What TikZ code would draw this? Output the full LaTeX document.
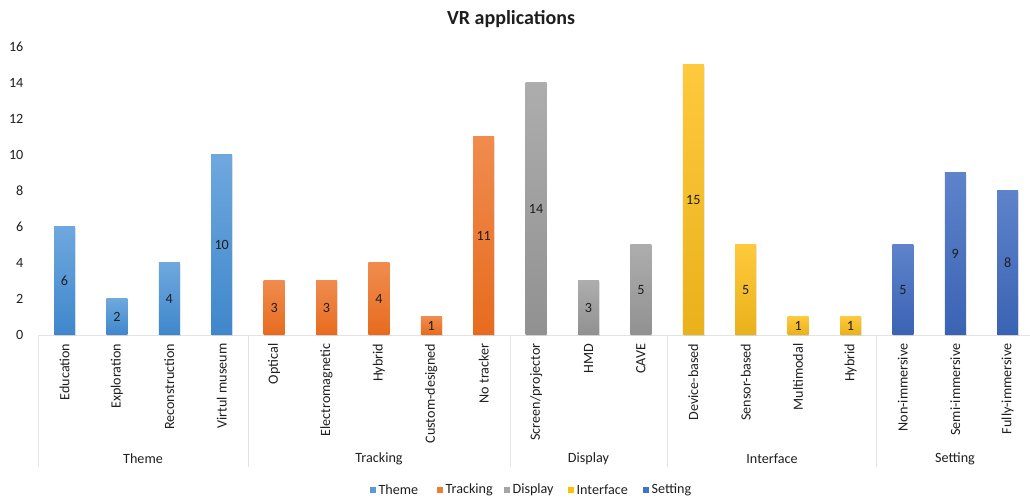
\documentclass[tikz,border=0pt]{standalone}
\usepackage{fontspec}
\setmainfont{Carlito}
\usetikzlibrary{shadows}
\definecolor{thT}{HTML}{6EA8DE}\definecolor{thB}{HTML}{3F87CB}\definecolor{thM}{HTML}{5B9BD5}
\definecolor{trT}{HTML}{F08C4E}\definecolor{trB}{HTML}{E76B1E}\definecolor{trM}{HTML}{ED7D31}
\definecolor{diT}{HTML}{ADADAD}\definecolor{diB}{HTML}{919191}\definecolor{diM}{HTML}{A5A5A5}
\definecolor{inT}{HTML}{FFC93E}\definecolor{inB}{HTML}{E9B11A}\definecolor{inM}{HTML}{FFC000}
\definecolor{seT}{HTML}{5E83CB}\definecolor{seB}{HTML}{3A63B3}\definecolor{seM}{HTML}{4472C4}
\definecolor{txt}{HTML}{1E1E1E}
\definecolor{gridc}{HTML}{E3E3E3}
\begin{document}
\begin{tikzpicture}[x=0.75pt,y=-0.75pt,
  lbl/.style={font=\fontsize{10.6}{12.5}\selectfont, text=txt, inner sep=1pt},
  bar/.style={lbl, minimum width=15.75pt, anchor=south, inner sep=0pt,
    drop shadow={opacity=0.18, shadow xshift=0.6pt, shadow yshift=-0.6pt}},
  gth/.style={top color=thT, bottom color=thB},
  gtr/.style={top color=trT, bottom color=trB},
  gdi/.style={top color=diT, bottom color=diB},
  gin/.style={top color=inT, bottom color=inB},
  gse/.style={top color=seT, bottom color=seB},
  sepline/.style={draw=gridc, line width=0.5pt},
  legmark/.style={minimum size=4.5pt, inner sep=0pt, anchor=center},
  titlestyle/.style={font=\fontsize{15}{18}\selectfont\bfseries, text=txt}
]
\useasboundingbox (0,0) rectangle (1030,502);
\node[titlestyle] (ttl) at (511,19) {VR applications};
% y axis labels
\foreach \t in {0,2,...,16}
  \node[lbl, anchor=east] (y\t) at (25,335-18*\t) {\t};
% baseline
\coordinate (ax0) at (38.3,335);
\coordinate (ax1) at (1030,335);
\draw[sepline] (ax0) -- (ax1);
% group separators
\foreach \x [count=\k] in {38.3,247.9,509.9,667.1,876.7} {
  \coordinate (s\k a) at (\x,335);
  \coordinate (s\k b) at (\x,467);
  \draw[sepline] (s\k a) -- (s\k b);
}
% bars
\foreach \n/\v/\g [count=\i from 0] in {Education/6/gth, Exploration/2/gth, Reconstruction/4/gth, Virtul museum/10/gth,
  Optical/3/gtr, Electromagnetic/3/gtr, Hybrid/4/gtr, Custom-designed/1/gtr, No tracker/11/gtr,
  Screen\slash projector/14/gdi, HMD/3/gdi, CAVE/5/gdi,
  Device-based/15/gin, Sensor-based/5/gin, Multimodal/1/gin, Hybrid/1/gin,
  Non-immersive/5/gse, Semi-immersive/9/gse, Fully-immersive/8/gse} {
  \node[bar,\g, minimum height=\v*13.5pt] (b\i) at (64.5+\i*52.4,335) {\v};
  \node[lbl, rotate=90, anchor=east] (c\i) at (64.5+\i*52.4,342) {\n};
}
% group labels
\node[lbl] (gTheme) at (143,459) {Theme};
\node[lbl] (gTracking) at (379,459) {Tracking};
\node[lbl] (gDisplay) at (588.5,459) {Display};
\node[lbl] (gInterface) at (772,459) {Interface};
\node[lbl] (gSetting) at (955,459) {Setting};
% legend
\foreach \c/\x/\t [count=\j] in {thM/373/Theme, trM/440/Tracking, diM/507/Display, inM/571/Interface, seM/646/Setting} {
  \node[legmark, fill=\c] (m\j) at (\x,490) {};
  \node[lbl, anchor=west] (l\j) at (\x+4,490) {\t};
}
\end{tikzpicture}
\end{document}
